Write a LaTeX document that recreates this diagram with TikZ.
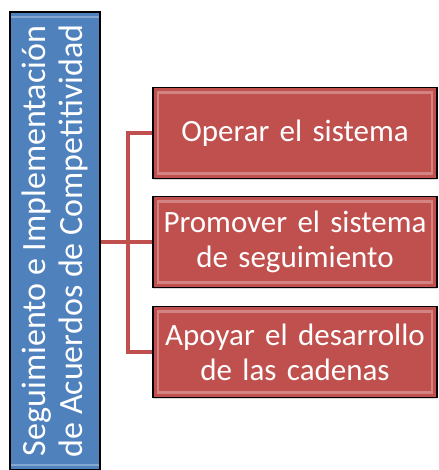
\documentclass[tikz,border=0pt]{standalone}
\usepackage{fontspec}
\setmainfont{Carlito}
\usetikzlibrary{shadows}
\definecolor{azul}{HTML}{4F81BD}
\definecolor{rojo}{HTML}{C0504D}

\begin{document}
\begin{tikzpicture}[x=1pt,y=1pt,
  bisel/.style={path picture={\draw[white, opacity=0.3, line width=2.5pt]
    ([shift={(5pt,5pt)}]path picture bounding box.south west) rectangle
    ([shift={(-5pt,-5pt)}]path picture bounding box.north east);}},
  cajaazul/.style={draw=black, line width=1.2pt, fill=azul, text=white, rotate=90,
    minimum width=458pt, minimum height=90pt, align=center, bisel,
    font=\fontsize{34}{37}\selectfont, inner sep=0pt},
  cajaroja/.style={draw=black, line width=1.2pt, fill=rojo, text=white,
    minimum width=284pt, minimum height=91pt, text width=280pt, align=center, bisel,
    drop shadow={opacity=0.3, shadow xshift=0pt, shadow yshift=-2pt},
    font=\fontsize{31}{35}\selectfont, inner sep=2pt},
  conector/.style={draw=rojo, line width=4pt}]
  \useasboundingbox (0,0) rectangle (438,470);
  % Caja principal
  \node[cajaazul] (principal) at (55,229) {Seguimiento e Implementación\\de Acuerdos de Competitividad};
  % Tareas
  \node[cajaroja] (operar) at (295,337) {Operar el sistema};
  \node[cajaroja] (promover) at (295,228) {Promover el sistema\\de seguimiento};
  \node[cajaroja] (apoyar) at (295,118) {Apoyar el desarrollo\\de las cadenas};
  % Conectores
  \coordinate (bus) at (128,0);
  \draw[conector] (operar.west) -- (operar.west -| bus) -- (apoyar.west -| bus) -- (apoyar.west);
  \draw[conector] (principal.south |- promover.west) -- (promover.west);
\end{tikzpicture}
\end{document}
